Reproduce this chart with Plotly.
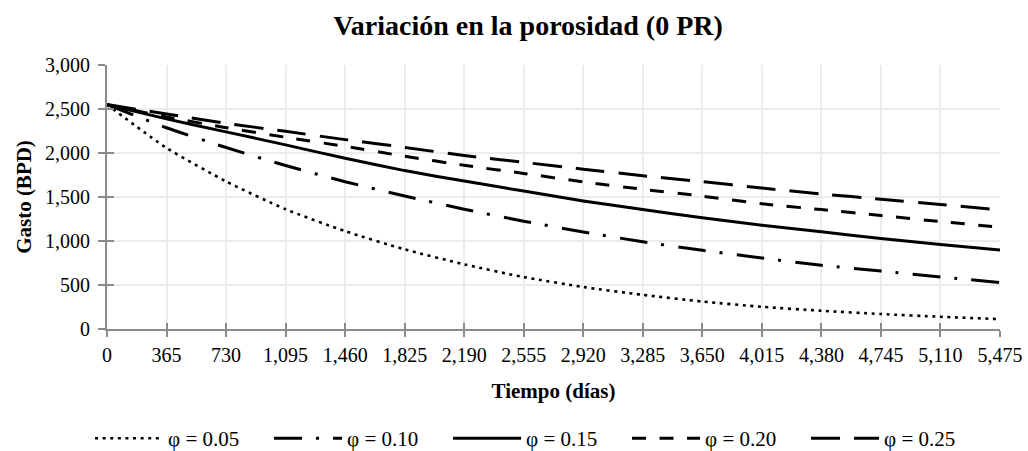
import plotly.graph_objects as go

dias = [0, 365, 730, 1095, 1460, 1825, 2190, 2555, 2920, 3285, 3650, 4015, 4380, 4745, 5110, 5475]

phi_005 = [2550, 2058, 1677, 1361, 1112, 905, 735, 590, 477, 388, 312, 252, 207, 170, 139, 112]
phi_010 = [2550, 2287, 2062, 1858, 1674, 1512, 1361, 1225, 1103, 991, 895, 806, 724, 659, 592, 527]
phi_015 = [2550, 2388, 2240, 2092, 1940, 1800, 1681, 1568, 1455, 1357, 1263, 1180, 1104, 1029, 961, 897]
phi_020 = [2550, 2410, 2288, 2179, 2075, 1963, 1860, 1768, 1672, 1587, 1510, 1423, 1357, 1289, 1221, 1157]
phi_025 = [2550, 2443, 2337, 2246, 2152, 2064, 1971, 1894, 1816, 1742, 1674, 1602, 1535, 1475, 1415, 1353]

series = [
    ("φ = 0.05", phi_005, "3px,4.6px", 2.6),
    ("φ = 0.10", phi_010, "28px,14px,3px,14px", 3),
    ("φ = 0.15", phi_015, "solid", 3),
    ("φ = 0.20", phi_020, "14px,13.5px", 3),
    ("φ = 0.25", phi_025, "29px,14px", 3),
]

SERIF = "Liberation Serif, Times New Roman, serif"

fig = go.Figure()
for name, vals, dash, w in series:
    fig.add_trace(go.Scatter(
        x=dias, y=vals, name=name, mode="lines",
        line=dict(color="black", width=w, dash=dash, shape="spline", smoothing=0.6),
    ))

# companion overlay axis to draw the inner half of the crossing tick marks
fig.add_trace(go.Scatter(x=[dias[0]], y=[phi_005[0]], xaxis="x2", yaxis="y2",
                         mode="lines", showlegend=False, hoverinfo="skip",
                         line=dict(width=0)))

axis_color = "#8c8c8c"
grid_color = "#ececec"

fig.update_layout(
    width=1028, height=451,
    paper_bgcolor="white", plot_bgcolor="white",
    margin=dict(l=107, r=28, t=65, b=122, autoexpand=False),
    font=dict(family=SERIF, size=20, color="black"),
    title=dict(text="<b>Variación en la porosidad (0 PR)</b>", x=528 / 1028, xanchor="center",
               y=1 - 25 / 451, yanchor="middle", font=dict(size=28, family=SERIF)),
    xaxis=dict(range=[0, 5475], tickvals=dias, tickformat=",d",
               showgrid=True, gridcolor=grid_color, gridwidth=1.5,
               showline=True, linecolor=axis_color, linewidth=1.8,
               ticks="outside", ticklen=6, tickwidth=1.8, tickcolor=axis_color,
               tickfont=dict(size=20, family=SERIF), ticklabelstandoff=1,
               zeroline=False, automargin=False,
               title=dict(text="<b>Tiempo (días)</b>", font=dict(size=21, family=SERIF), standoff=18)),
    yaxis=dict(range=[0, 3000], dtick=500, tickformat=",d",
               showgrid=True, gridcolor=grid_color, gridwidth=1.5,
               showline=True, linecolor=axis_color, linewidth=1.8,
               ticks="outside", ticklen=7, tickwidth=1.8, tickcolor=axis_color,
               tickfont=dict(size=20, family=SERIF), ticklabelstandoff=4,
               zeroline=False, automargin=False,
               title=dict(text="<b>Gasto (BPD)</b>", font=dict(size=21, family=SERIF), standoff=8)),
    xaxis2=dict(range=[0, 5475], tickvals=dias, overlaying="x", anchor="y2",
                showgrid=False, showline=False, showticklabels=False, zeroline=False,
                ticks="inside", ticklen=6, tickwidth=1.8, tickcolor=axis_color),
    yaxis2=dict(range=[0, 3000], dtick=500, overlaying="y", anchor="x2",
                showgrid=False, showline=False, showticklabels=False, zeroline=False,
                ticks="inside", ticklen=7, tickwidth=1.8, tickcolor=axis_color),
    legend=dict(orientation="h", x=-0.019, xanchor="left", y=-0.415, yanchor="middle",
                font=dict(size=21, family=SERIF), itemwidth=68,
                entrywidth=96, entrywidthmode="pixels", traceorder="normal"),
    showlegend=True,
)

fig.write_html("out.html",
               config={"displayModeBar": False},
               post_script="document.documentElement.style.margin='0';"
                           "document.body.style.margin='0';"
                           "document.body.style.overflow='hidden';")
